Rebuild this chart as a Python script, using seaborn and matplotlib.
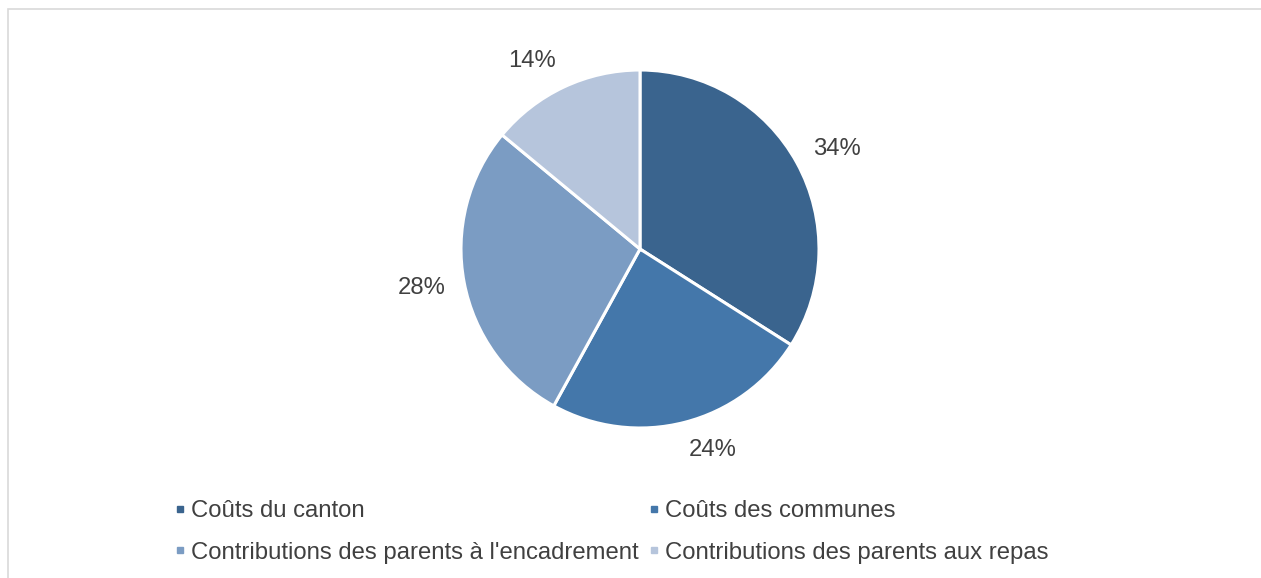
import numpy as np
import matplotlib.pyplot as plt
import matplotlib.patches as mpatches
from matplotlib.lines import Line2D
import seaborn as sns

# data
categories = ["Coûts du canton", "Coûts des communes",
              "Contributions des parents à l'encadrement",
              "Contributions des parents aux repas"]
shares = [34, 24, 28, 14]
colors = ["#3a648e", "#4477aa", "#7b9cc3", "#b6c5dc"]

sns.set_theme(style="white")
plt.rcParams['font.family'] = ['Liberation Sans', 'DejaVu Sans']

W, H = 1261, 578
FS = 17.2
TXT = "#404040"
fig = plt.figure(figsize=(W / 100, H / 100), dpi=100)

# light frame around the chart area (cut at right and bottom)
frame = mpatches.Rectangle((8 / W, -0.1), 1.1, (H - 9) / H + 0.1,
                           transform=fig.transFigure, fill=False,
                           edgecolor="#d9d9d9", linewidth=1.2)
fig.patches.append(frame)

# pie axes
r, cx, cy = 179, 640, 578 - 249
ax = fig.add_axes([(cx - r) / W, (cy - r) / H, 2 * r / W, 2 * r / H])
wedges, _ = ax.pie(
    shares, colors=colors, startangle=90, counterclock=False,
    wedgeprops=dict(edgecolor="white", linewidth=2.2))
ax.set_xlim(-1, 1)
ax.set_ylim(-1, 1)
ax.set_aspect("equal")
ax.axis("off")

# outside-end labels, pushed out so the text box clears the rim
total = sum(shares)
for w, v in zip(wedges, shares):
    ang = np.deg2rad((w.theta1 + w.theta2) / 2)
    c, s = np.cos(ang), np.sin(ang)
    ax.text(1.105 * c, 1.1 * s + 0.06 * s, f"{v / total * 100:.0f}%",
            fontsize=FS, color=TXT, ha="left" if c > 0 else "right",
            va="center")

# legend, row-major order with two columns
handles = [Line2D([], [], marker="s", linestyle="", markersize=5,
                  color=c) for c in colors]
order = [0, 2, 1, 3]
fig.legend([handles[i] for i in order], [categories[i] for i in order],
           ncol=2, loc="upper left", bbox_to_anchor=(174 / W, 1 - 500 / H),
           frameon=False, fontsize=FS, labelcolor=TXT, borderpad=0,
           borderaxespad=0, handlelength=0.5, handletextpad=0.2,
           columnspacing=0.4, labelspacing=0.82)

fig.savefig("out.png", dpi=100)
